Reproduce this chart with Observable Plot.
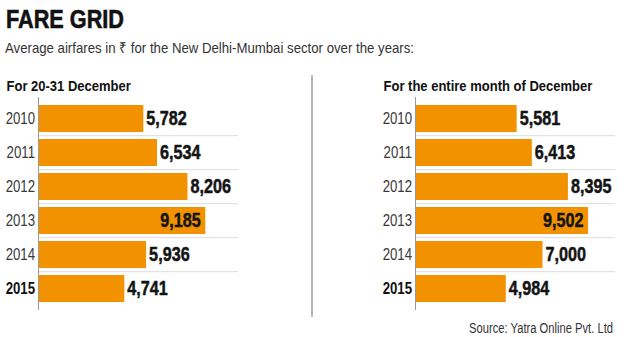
<!DOCTYPE html>
<html>
<head>
<meta charset="utf-8">
<script src="https://cdn.jsdelivr.net/npm/d3@7"></script>
<script src="https://cdn.jsdelivr.net/npm/@observablehq/plot@0.6"></script>
<style>
  html, body { margin: 0; padding: 0; background: #fff; }
  #page { position: relative; width: 630px; height: 337px; overflow: hidden;
          font-family: "Liberation Sans", Arial, sans-serif; }
  #title { position: absolute; left: 6px; top: 6.7px; font-size: 25.5px; line-height: 25.5px; font-weight: bold; color: #111;
           white-space: nowrap; transform: scaleX(0.85); transform-origin: left top; -webkit-text-stroke: 0.6px #111; }
  #subtitle { position: absolute; left: 5px; top: 39.5px; font-size: 15px; line-height: 15px; color: #333; white-space: nowrap;
              transform: scaleX(0.88); transform-origin: left top; }
  #divider { position: absolute; left: 311px; top: 75px; width: 1.5px; height: 242px; background: #b5b5b5; }
  #source { position: absolute; right: 17px; top: 320.6px; font-size: 14px; line-height: 14px; color: #333; white-space: nowrap;
            transform: scaleX(0.8); transform-origin: right top; }
  #chart { position: absolute; left: 0; top: 60px; }
</style>
</head>
<body>
<div id="page">
  <div id="title">FARE GRID</div>
  <div id="subtitle">Average airfares in ₹ for the New Delhi-Mumbai sector over the years:</div>
  <div id="divider"></div>
  <div id="chart"></div>
  <div id="source">Source: Yatra Online Pvt. Ltd</div>
</div>
<script>
const years = ["2010", "2011", "2012", "2013", "2014", "2015"];
const dec20to31 = [5782, 6534, 8206, 9185, 5936, 4741];
const decEntire = [5581, 6413, 8395, 9502, 7000, 4984];
const panels = ["left", "right"];
const panelTitles = ["For 20-31 December", "For the entire month of December"];
const highlightYear = "2015";

const rows = [];
[dec20to31, decEntire].forEach((vals, p) => {
  const mx = d3.max(vals);
  vals.forEach((v, i) => rows.push({panel: panels[p], year: years[i], value: v, inside: v === mx}));
});
const heads = panels.map((p, i) => ({panel: p, label: panelTitles[i]}));
const fmt = d3.format(",");
const font = '"Liberation Sans", Arial, sans-serif';

const chart = Plot.plot({
  width: 630,
  height: 260,
  marginLeft: 38,
  marginRight: 15,
  marginTop: 37,
  marginBottom: 10,
  style: {fontFamily: font, background: "transparent"},
  fx: {domain: panels, paddingInner: 0.4695, paddingOuter: 0, axis: null, label: null},
  x: {domain: [0, 10980], axis: null},
  y: {domain: years, paddingInner: 0.22, paddingOuter: 0.19, axis: null},
  marks: [
    Plot.ruleY(rows.filter(d => d.year !== years[0]), {fx: "panel", y: "year", dy: -17.3, stroke: "#dcdcdc", strokeWidth: 1}),
    Plot.barX(rows, {fx: "panel", y: "year", x: "value", fill: "#f39200"}),
    Plot.ruleX([0], {stroke: "#9a9a9a", strokeWidth: 1}),
    Plot.text(rows.filter(d => d.year !== highlightYear), {ariaLabel: () => "year-label", fx: "panel", y: "year", text: "year", frameAnchor: "left", textAnchor: "end", dx: -3.5, fontSize: 16.3, fill: "#3a3a3a"}),
    Plot.text(rows.filter(d => d.year === highlightYear), {ariaLabel: () => "year-label", fx: "panel", y: "year", text: "year", frameAnchor: "left", textAnchor: "end", dx: -3.5, fontSize: 16.3, fontWeight: "bold", fill: "#111"}),
    Plot.text(rows.filter(d => !d.inside), {ariaLabel: () => "value-label", fx: "panel", y: "year", x: "value", text: d => fmt(d.value), textAnchor: "start", dx: 2.5, fontSize: 20, fontWeight: "bold", fill: "#141414", stroke: "#141414", strokeWidth: 0.5}),
    Plot.text(rows.filter(d => d.inside), {ariaLabel: () => "value-label", fx: "panel", y: "year", x: "value", text: d => fmt(d.value), textAnchor: "end", dx: -5, fontSize: 20, fontWeight: "bold", fill: "#141414", stroke: "#141414", strokeWidth: 0.5}),
    Plot.text(heads, {ariaLabel: () => "panel-head", fx: "panel", text: "label", frameAnchor: "top-left", textAnchor: "start", lineAnchor: "bottom", dx: -32, dy: -7, fontSize: 14, fontWeight: "bold", fill: "#111"})
  ]
});

// condensed typeface look: squeeze glyphs horizontally around each text anchor
const squeeze = {"year-label": 0.81, "value-label": 0.81, "panel-head": 0.93};
chart.querySelectorAll("text").forEach(t => {
  const s = squeeze[t.getAttribute("aria-label")];
  if (!s) return;
  const tr = t.getAttribute("transform") || "";
  const xa = parseFloat(t.getAttribute("x"));
  const x = Number.isFinite(xa) ? xa : 0;
  t.setAttribute("transform", x ? `${tr} translate(${x},0) scale(${s},1) translate(${-x},0)` : `${tr} scale(${s},1)`);
});
document.getElementById("chart").appendChild(chart);
</script>
</body>
</html>
